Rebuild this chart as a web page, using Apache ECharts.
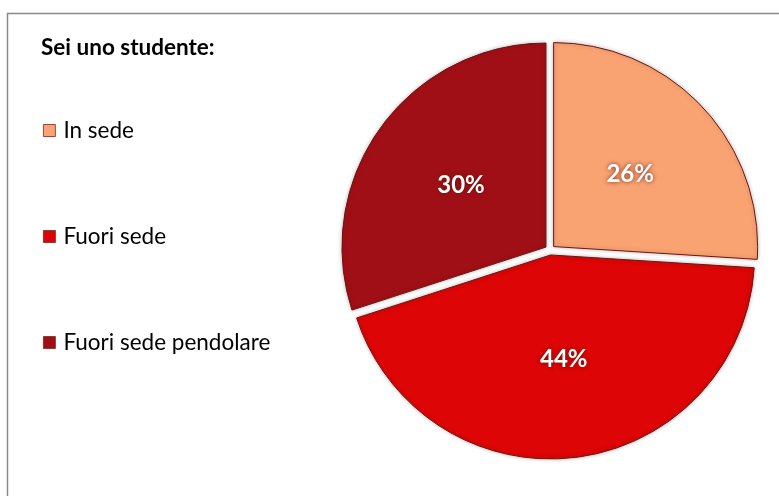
<!DOCTYPE html>
<html>
<head>
<meta charset="utf-8">
<script src="https://cdn.jsdelivr.net/npm/echarts@6/dist/echarts.min.js"></script>
<style>html,body{margin:0;padding:0;background:#fff}#c{width:779px;height:496px}</style>
</head>
<body>
<div id="c"></div>
<script>
const titleText = 'Sei uno studente:';
const categories = ['In sede', 'Fuori sede', 'Fuori sede pendolare'];
const values = [26, 44, 30];
const colors = ['#F9A272', '#DD0505', '#A10F16'];

const chart = echarts.init(document.getElementById('c'), null, {renderer: 'canvas'});
const data = categories.map((n, i) => ({
  name: n, value: values[i], selected: true,
  itemStyle: {color: colors[i]}
}));
chart.setOption({
  animation: false,
  graphic: [
    {type: 'line', shape: {x1: 7, y1: 13.5, x2: 779, y2: 13.5}, style: {stroke: '#8a8a8a', lineWidth: 1.5}},
    {type: 'line', shape: {x1: 7.5, y1: 13, x2: 7.5, y2: 496}, style: {stroke: '#8a8a8a', lineWidth: 1.5}}
  ],
  title: {
    text: titleText, left: 36, top: 31,
    textStyle: {fontFamily: 'Lato', fontWeight: 'bold', fontSize: 22.5, color: '#000'}
  },
  legend: {
    orient: 'vertical', left: 38, top: 114,
    itemWidth: 12, itemHeight: 12, itemGap: 83,
    icon: 'rect', selectedMode: false,
    itemStyle: {borderColor: '#7a2a20', borderWidth: 0.8},
    textStyle: {fontFamily: 'Lato', fontSize: 22.5, color: '#000', padding: [0, 0, 0, 3]},
    data: categories
  },
  series: [{
    type: 'pie',
    center: [550, 250],
    radius: [0, 204],
    startAngle: 90,
    clockwise: true,
    selectedMode: 'multiple',
    selectedOffset: 5,
    emphasis: {disabled: true},
    itemStyle: {borderColor: '#6e1410', borderWidth: 1, shadowBlur: 4, shadowColor: 'rgba(0,0,0,0.25)'},
    label: {
      show: true, position: 'inside',
      formatter: p => p.value + '%',
      fontFamily: 'Lato', fontWeight: 'bold', fontSize: 24, color: '#fff',
      textShadowColor: 'rgba(90,20,10,0.8)', textShadowBlur: 4
    },
    labelLine: {show: false},
    data: data
  }]
});
</script>
</body>
</html>
